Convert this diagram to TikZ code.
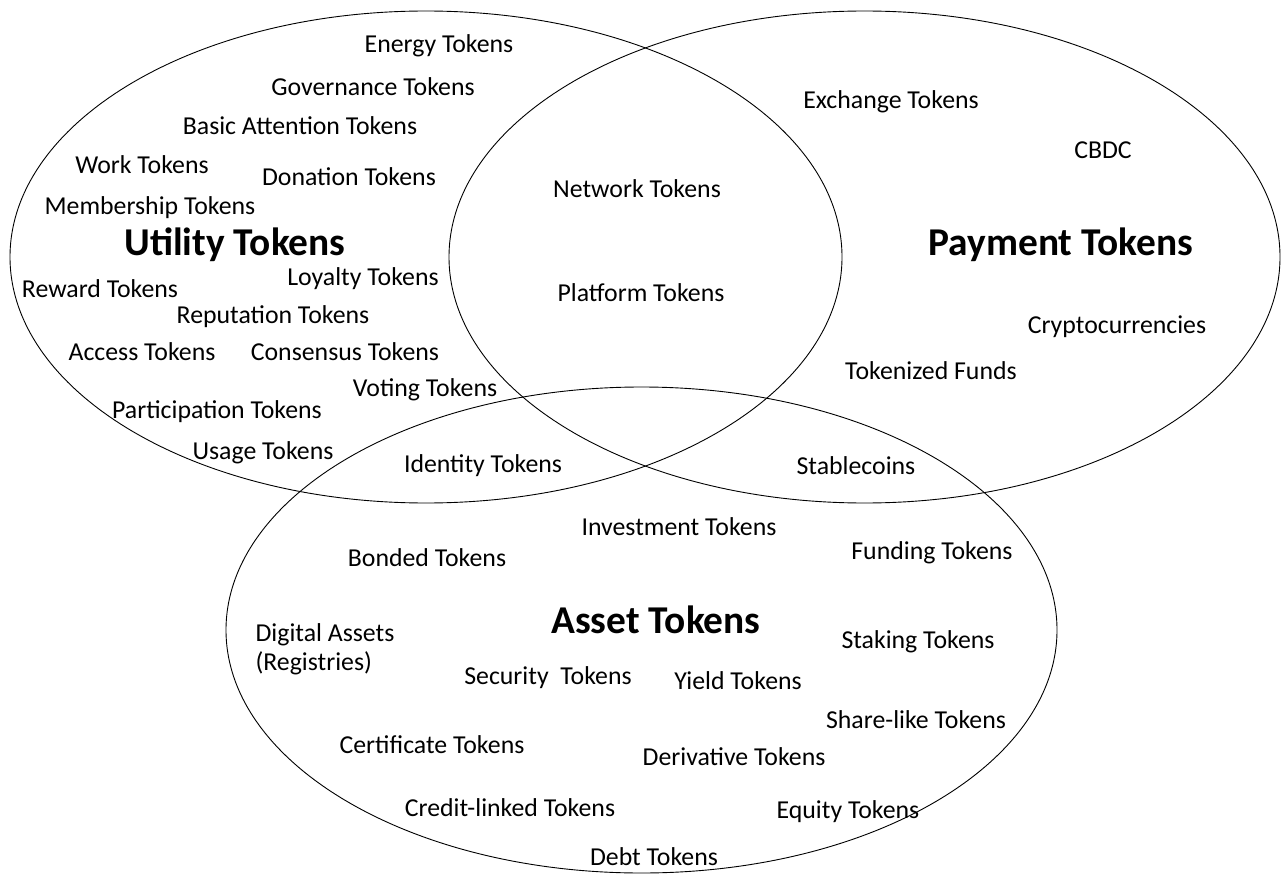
\documentclass[tikz,border=0pt]{standalone}
\usepackage{fontspec}
\setmainfont{Carlito}
\begin{document}
\begin{tikzpicture}[x=1pt,y=-1pt,
  set/.style={draw=black,line width=0.9pt},
  lbl/.style={inner sep=0pt,text height=0.64em,text depth=0pt,yshift=-5pt,font=\fontsize{25.8}{30}\selectfont},
  twolines/.style={inner sep=0pt,align=left,yshift=-2pt,font=\fontsize{25.8}{29}\selectfont},
  title/.style={inner sep=0pt,text height=0.64em,text depth=0pt,yshift=-10pt,font=\bfseries\fontsize{39.4}{47}\selectfont}]
\useasboundingbox (0,0) rectangle (1284,877);
% the three token classes
\draw[set] (426,257) ellipse [x radius=416pt,y radius=246pt];
\draw[set] (864.5,257) ellipse [x radius=415.5pt,y radius=246pt];
\draw[set] (641.5,630) ellipse [x radius=415.5pt,y radius=243pt];
% class names
\node[title] (ut) at (235,242) {Utility Tokens};
\node[title] (pt) at (1061,242) {Payment Tokens};
\node[title] (at) at (656,620) {Asset Tokens};
% utility tokens
\node[lbl] (energy) at (439,44) {Energy Tokens};
\node[lbl] (gov) at (373,87) {Governance Tokens};
\node[lbl] (bat) at (300,126) {Basic Attention Tokens};
\node[lbl] (work) at (142,165) {Work Tokens};
\node[lbl] (don) at (349,177) {Donation Tokens};
\node[lbl] (mem) at (150,206) {Membership Tokens};
\node[lbl] (loy) at (363,277) {Loyalty Tokens};
\node[lbl] (rew) at (100,289) {Reward Tokens};
\node[lbl] (rep) at (273,315) {Reputation Tokens};
\node[lbl] (acc) at (142,352) {Access Tokens};
\node[lbl] (cons) at (345,352) {Consensus Tokens};
\node[lbl] (vot) at (425,388) {Voting Tokens};
\node[lbl] (part) at (217,410) {Participation Tokens};
\node[lbl] (usage) at (263,451) {Usage Tokens};
% utility and payment
\node[lbl] (net) at (637,189) {Network Tokens};
\node[lbl] (plat) at (641,293) {Platform Tokens};
% utility and asset
\node[lbl] (ident) at (483,464) {Identity Tokens};
% payment tokens
\node[lbl] (exch) at (891,100) {Exchange Tokens};
\node[lbl] (cbdc) at (1103,150) {CBDC};
\node[lbl] (crypto) at (1117,325) {Cryptocurrencies};
\node[lbl] (funds) at (931,371) {Tokenized Funds};
% payment and asset
\node[lbl] (stable) at (856,466) {Stablecoins};
% asset tokens
\node[lbl] (inv) at (679,527) {Investment Tokens};
\node[lbl] (bond) at (427,558) {Bonded Tokens};
\node[lbl] (fund) at (932,551) {Funding Tokens};
\node[twolines] (dig) at (325,647) {Digital Assets\\(Registries)};
\node[lbl] (stak) at (918,640) {Staking Tokens};
\node[lbl] (sec) at (548,676) {Security\ \ Tokens};
\node[lbl] (yield) at (738,681) {Yield Tokens};
\node[lbl] (share) at (916,720) {Share-like Tokens};
\node[lbl] (cert) at (432,745) {Certificate Tokens};
\node[lbl] (deriv) at (734,757) {Derivative Tokens};
\node[lbl] (credit) at (510,808) {Credit-linked Tokens};
\node[lbl] (equity) at (848,810) {Equity Tokens};
\node[lbl] (debt) at (654,857) {Debt Tokens};
\end{tikzpicture}
\end{document}
